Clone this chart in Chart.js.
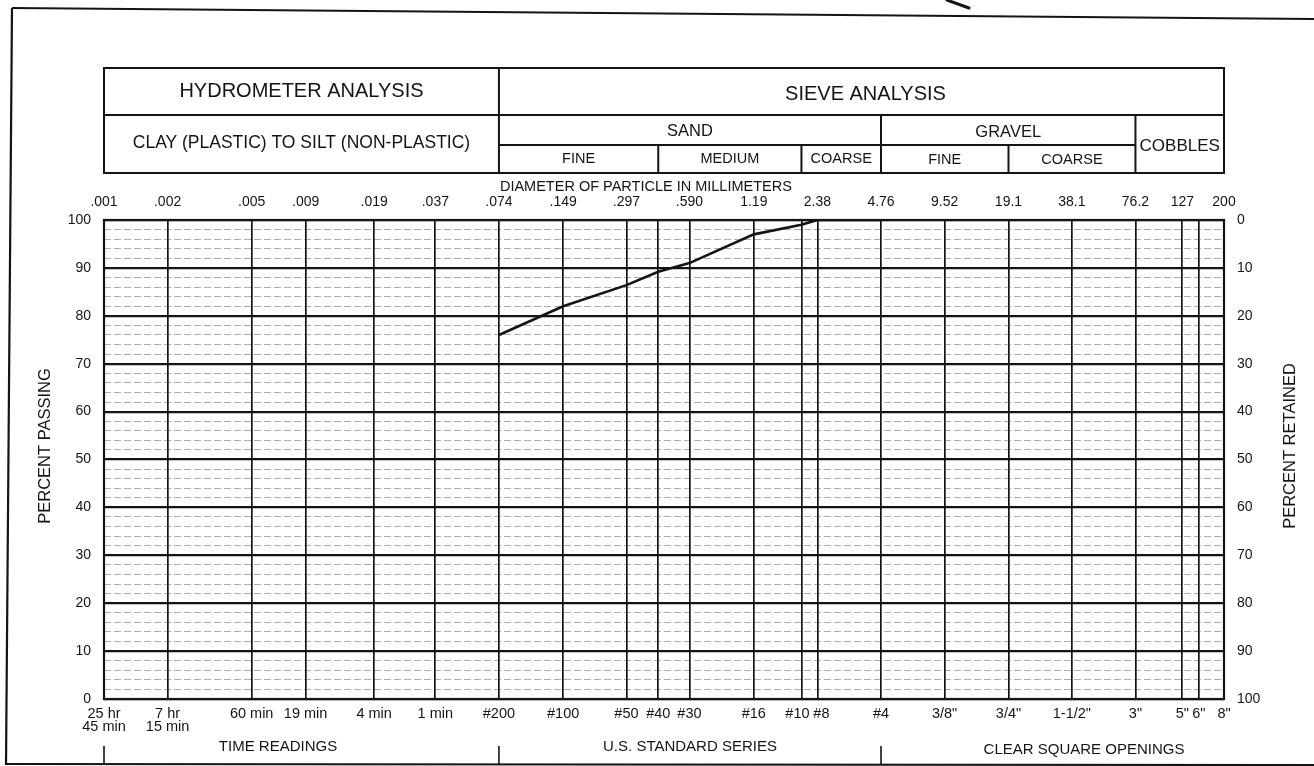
<!DOCTYPE html>
<html>
<head>
<meta charset="utf-8">
<title>Grain Size Distribution</title>
<script src="https://cdn.jsdelivr.net/npm/chart.js@4.4.1/dist/chart.umd.min.js"></script>
<style>
  html, body { margin: 0; padding: 0; background: #ffffff; }
  #wrap { width: 1314px; height: 766px; position: relative; overflow: hidden; }
  canvas { display: block; }
</style>
</head>
<body>
<div id="wrap"><canvas id="chart" width="1314" height="766"></canvas></div>
<script>
// Particle diameters (mm) at which the sheet has a vertical rule
const gridDiametersMm = [0.001, 0.002, 0.005, 0.009, 0.019, 0.037, 0.074, 0.149, 0.297, 0.42, 0.59,
                         1.19, 2.0, 2.38, 4.76, 9.52, 19.1, 38.1, 76.2, 127, 152, 200];
// Diameter labels printed above the grid (blank where the rule carries none)
const diameterTickLabels = ['.001', '.002', '.005', '.009', '.019', '.037', '.074', '.149', '.297', '', '.590',
                            '1.19', '', '2.38', '4.76', '9.52', '19.1', '38.1', '76.2', '127', '', '200'];
// Hydrometer time readings, U.S. standard sieves and square openings below the grid
const sieveTickLabels = [['25 hr', '45 min'], ['7 hr', '15 min'], '60 min', '19 min', '4 min', '1 min',
                         '#200', '#100', '#50', '#40', '#30', '#16', '#10  ', '  #8', '#4',
                         '3/8"', '3/4"', '1-1/2"', '3"', '5"', '6"', '8"'];

// Sieve test results
const testSieveMm    = [0.074, 0.149, 0.297, 0.42, 0.59, 1.19, 2.0, 2.38, 4.76];
const percentPassing = [76, 82, 86.4, 89.2, 91, 97, 99, 100, 100];

// Soil classification limits (mm)
const siltSandLimit = 0.074;
const fineMediumSandLimit = 0.42;
const mediumCoarseSandLimit = 2.0;
const sandGravelLimit = 4.76;
const fineCoarseGravelLimit = 19.1;
const gravelCobbleLimit = 76.2;
const minDiameter = 0.001;
const maxDiameter = 200;

const FONT = '"Liberation Sans", Arial, Helvetica, sans-serif';
const INK = '#141414';

Chart.defaults.font.family = FONT;
Chart.defaults.color = INK;

const sheetPlugin = {
  id: 'sheet',
  afterDraw(chart) {
    const ctx = chart.ctx;
    const xs = chart.scales.x;
    const ca = chart.chartArea;
    const px = v => xs.getPixelForValue(v);
    const line = (x1, y1, x2, y2, w) => {
      ctx.lineWidth = w || 2;
      ctx.beginPath(); ctx.moveTo(x1, y1); ctx.lineTo(x2, y2); ctx.stroke();
    };
    const text = (s, x, y, size, align) => {
      ctx.font = size + 'px ' + FONT;
      ctx.textAlign = align || 'center';
      ctx.textBaseline = 'middle';
      ctx.fillText(s, x, y);
    };

    ctx.save();
    ctx.strokeStyle = INK;
    ctx.fillStyle = INK;
    ctx.lineCap = 'butt';

    // page frame
    line(12, 8, 1314, 19, 2.2);
    line(12, 8, 6, 765, 2.2);
    line(6, 764, 1314, 765, 2.2);
    // pen mark at the top edge
    ctx.lineCap = 'round';
    line(947, 0, 969, 8, 3);
    ctx.lineCap = 'butt';

    // plot frame
    ctx.lineWidth = 2.2;
    ctx.strokeRect(ca.left, ca.top, ca.right - ca.left, ca.bottom - ca.top);

    // classification table
    const L = px(minDiameter), R = px(maxDiameter);
    const xSilt = px(siltSandLimit), xFM = px(fineMediumSandLimit), xMC = px(mediumCoarseSandLimit);
    const xSG = px(sandGravelLimit), xGG = px(fineCoarseGravelLimit), xGC = px(gravelCobbleLimit);
    const t0 = 68, t1 = 115, t2 = 145, t3 = 173;
    ctx.lineWidth = 2;
    ctx.strokeRect(L, t0, R - L, t3 - t0);
    line(xSilt, t0, xSilt, t3);
    line(L, t1, R, t1);
    line(xSilt, t2, xGC, t2);
    line(xSG, t1, xSG, t3);
    line(xGC, t1, xGC, t3);
    line(xFM, t2, xFM, t3);
    line(xMC, t2, xMC, t3);
    line(xGG, t2, xGG, t3);

    text('HYDROMETER ANALYSIS', (L + xSilt) / 2, 91, 20);
    text('CLAY (PLASTIC) TO SILT (NON-PLASTIC)', (L + xSilt) / 2, 143, 17.5);
    text('SIEVE ANALYSIS', (xSilt + R) / 2 + 4, 94, 20);
    text('SAND', (xSilt + xSG) / 2, 131, 16.5);
    text('GRAVEL', (xSG + xGC) / 2, 132, 16.5);
    text('COBBLES', (xGC + R) / 2, 146, 17);
    text('FINE', (xSilt + xFM) / 2, 159, 14.5);
    text('MEDIUM', (xFM + xMC) / 2, 159, 14.5);
    text('COARSE', (xMC + xSG) / 2, 159, 14.5);
    text('FINE', (xSG + xGG) / 2, 160, 14.5);
    text('COARSE', (xGG + xGC) / 2, 160, 14.5);

    text('DIAMETER OF PARTICLE IN MILLIMETERS', xSilt + 1, 187, 14.5, 'left');

    // axis titles, both reading upward
    ctx.save();
    ctx.translate(45, 446);
    ctx.rotate(-Math.PI / 2);
    text('PERCENT PASSING', 0, 0, 16.5);
    ctx.restore();
    ctx.save();
    ctx.translate(1290, 446);
    ctx.rotate(-Math.PI / 2);
    text('PERCENT RETAINED', 0, 0, 16.5);
    ctx.restore();

    // group captions under the lower scale
    text('TIME READINGS', 278, 747, 15);
    text('U.S. STANDARD SERIES', 690, 747, 15);
    text('CLEAR SQUARE OPENINGS', 1084, 750, 15);
    [minDiameter, siltSandLimit, sandGravelLimit].forEach(v => {
      const x = px(v);
      line(x, 746, x, 764, 1.6);
    });

    ctx.restore();
  }
};

const isMajor = c => c.tick && Math.round(c.tick.value) % 10 === 0;

new Chart(document.getElementById('chart'), {
  type: 'line',
  data: {
    datasets: [{
      label: 'Percent passing',
      data: testSieveMm.map((d, i) => ({ x: d, y: percentPassing[i] })),
      borderColor: INK,
      borderWidth: 2.6,
      pointRadius: 0,
      tension: 0,
      fill: false,
      xAxisID: 'x',
      yAxisID: 'y'
    }]
  },
  options: {
    responsive: false,
    animation: false,
    devicePixelRatio: 1,
    layout: { padding: 0 },
    plugins: { legend: { display: false }, tooltip: { enabled: false } },
    scales: {
      x: {
        type: 'logarithmic',
        position: 'bottom',
        min: minDiameter,
        max: maxDiameter,
        bounds: 'data',
        afterBuildTicks: s => { s.ticks = gridDiametersMm.map(v => ({ value: v })); },
        afterFit: s => { s.height = 67; },
        grid: { color: INK, lineWidth: 1.7, drawTicks: false },
        border: { display: false },
        ticks: {
          autoSkip: false,
          maxRotation: 0,
          minRotation: 0,
          padding: 8,
          font: { size: 14.5, lineHeight: 0.92 },
          callback: (v, i) => sieveTickLabels[i]
        }
      },
      x2: {
        type: 'logarithmic',
        position: 'top',
        min: minDiameter,
        max: maxDiameter,
        bounds: 'data',
        afterBuildTicks: s => { s.ticks = gridDiametersMm.map(v => ({ value: v })); },
        afterFit: s => { s.height = 220; },
        grid: { display: false, drawTicks: false },
        border: { display: false },
        ticks: {
          autoSkip: false,
          maxRotation: 0,
          minRotation: 0,
          padding: 9,
          font: { size: 14 },
          callback: (v, i) => diameterTickLabels[i]
        }
      },
      y: {
        type: 'linear',
        position: 'left',
        min: 0,
        max: 100,
        afterFit: s => { s.width = 104; },
        ticks: {
          stepSize: 2,
          autoSkip: false,
          padding: 13,
          font: { size: 14 },
          callback: v => (Math.round(v) % 10 === 0 ? String(v) : '')
        },
        grid: {
          drawTicks: false,
          color: c => (isMajor(c) ? INK : 'rgba(60,60,60,0.42)'),
          lineWidth: c => (isMajor(c) ? 2.2 : 1)
        },
        border: {
          display: false,
          dash: c => (c.tick && !isMajor(c) ? [7, 3] : [])
        }
      },
      y2: {
        type: 'linear',
        position: 'right',
        min: 0,
        max: 100,
        reverse: true,
        afterFit: s => { s.width = 90; },
        ticks: {
          stepSize: 10,
          padding: 13,
          font: { size: 14 }
        },
        grid: { display: false, drawTicks: false },
        border: { display: false }
      }
    }
  },
  plugins: [sheetPlugin]
});
</script>
</body>
</html>
